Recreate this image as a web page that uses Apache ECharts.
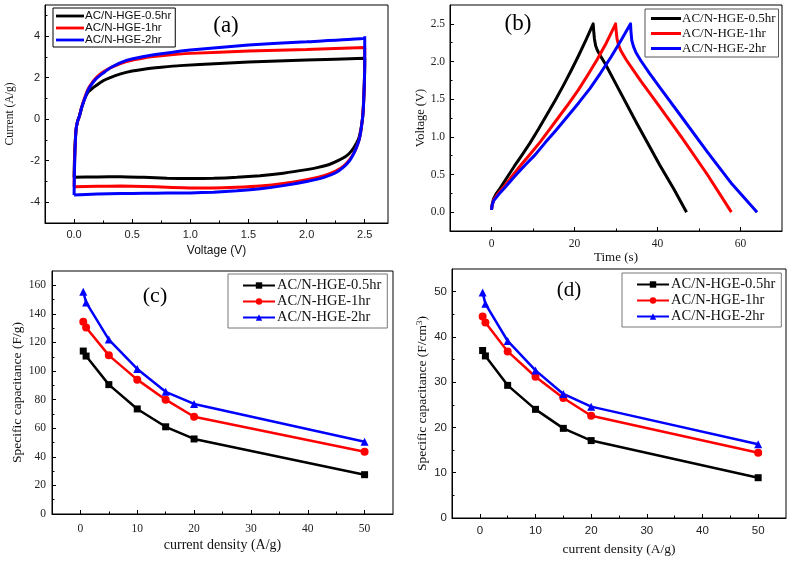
<!DOCTYPE html>
<html><head><meta charset="utf-8">
<script src="https://cdn.jsdelivr.net/npm/echarts@6/dist/echarts.min.js"></script>
<style>html,body{margin:0;padding:0;background:#fff}#c{width:790px;height:561px}</style>
</head><body><div id="c"></div>
<script>
// ---- Data ----
var seriesNames = ['AC/N-HGE-0.5hr', 'AC/N-HGE-1hr', 'AC/N-HGE-2hr'];
// (a) CV loops [voltage V, current A/g]
var cvBlack = [[0,-2.8],[0.003,-2.0],[0.008,-1.3],[0.017,-0.5],[0.03,-0.1],[0.046,0.15],[0.065,0.55],[0.089,0.95],[0.12,1.3],[0.16,1.5],[0.19,1.62],[0.25,1.85],[0.3,1.98],[0.4,2.18],[0.5,2.32],[0.6,2.41],[0.75,2.5],[0.91,2.58],[1.25,2.68],[1.5,2.75],[2.0,2.85],[2.5,2.93],
  [2.497,1.8],[2.49,0.8],[2.48,0],[2.455,-0.8],[2.43,-1.15],[2.39,-1.5],[2.34,-1.78],[2.27,-2.0],[2.2,-2.17],[2.1,-2.32],[2.0,-2.43],[1.8,-2.6],[1.6,-2.72],[1.4,-2.8],[1.2,-2.85],[1.0,-2.86],[0.8,-2.84],[0.6,-2.8],[0.4,-2.77],[0.2,-2.78],[0,-2.8]];
var cvRed = [[0,-3.25],[0.003,-2.3],[0.008,-1.4],[0.017,-0.5],[0.03,-0.1],[0.046,0.15],[0.065,0.58],[0.089,1.0],[0.12,1.45],[0.16,1.8],[0.2,2.05],[0.25,2.27],[0.32,2.5],[0.45,2.78],[0.6,2.95],[0.75,3.05],[1.0,3.17],[1.5,3.28],[2.0,3.36],[2.5,3.45],
  [2.498,2.0],[2.49,0.8],[2.48,0],[2.46,-0.8],[2.44,-1.2],[2.41,-1.6],[2.37,-1.95],[2.32,-2.25],[2.25,-2.5],[2.15,-2.72],[2.0,-2.92],[1.8,-3.1],[1.6,-3.22],[1.4,-3.28],[1.2,-3.31],[1.0,-3.31],[0.8,-3.28],[0.6,-3.24],[0.4,-3.22],[0.2,-3.23],[0,-3.25]];
var cvBlue = [[0,-3.65],[0.003,-2.6],[0.008,-1.5],[0.017,-0.5],[0.03,-0.1],[0.046,0.15],[0.065,0.55],[0.089,0.95],[0.12,1.4],[0.16,1.75],[0.2,2.0],[0.25,2.22],[0.32,2.5],[0.45,2.83],[0.6,3.02],[0.75,3.15],[1.0,3.33],[1.5,3.57],[2.0,3.73],[2.5,3.9],[2.5,4.0],
  [2.5,2.5],[2.495,1.5],[2.488,0.5],[2.48,0],[2.46,-0.8],[2.44,-1.2],[2.41,-1.6],[2.37,-2.0],[2.32,-2.3],[2.25,-2.58],[2.15,-2.8],[2.0,-3.0],[1.8,-3.2],[1.6,-3.35],[1.4,-3.45],[1.2,-3.52],[1.0,-3.55],[0.8,-3.56],[0.6,-3.57],[0.4,-3.58],[0.2,-3.6],[0,-3.65]];
// (b) GCD curves [time s, voltage V]
var gcdBlack = [[0,0.03],[0.15,0.1],[0.5,0.18],[1.2,0.25],[2.1,0.32],[3.5,0.44],[5.5,0.61],[7.5,0.77],[9.3,0.92],[11.3,1.1],[13.3,1.29],[15.3,1.48],[17.3,1.68],[19.2,1.88],[21,2.08],[22.8,2.29],[24.5,2.5],
  [24.6,2.42],[24.8,2.3],[25.1,2.21],[25.5,2.15],[26.2,2.08],[27.5,1.96],[30,1.7],[35,1.18],[40.5,0.63],[44,0.3],[47,0]];
var gcdRed = [[0,0.03],[0.15,0.09],[0.5,0.16],[1.5,0.24],[2.9,0.33],[5,0.48],[7,0.62],[9.3,0.77],[11.7,0.93],[14,1.1],[16.3,1.27],[18.6,1.44],[20.9,1.62],[23.2,1.82],[25.5,2.03],[27.7,2.25],[29.9,2.5],
  [30.05,2.4],[30.25,2.3],[30.6,2.22],[31.2,2.14],[32.5,2.02],[34,1.9],[36,1.74],[40.5,1.4],[46,0.98],[52,0.5],[57.8,0]];
var gcdBlue = [[0,0.03],[0.15,0.09],[0.5,0.15],[1.8,0.24],[3.3,0.33],[5.5,0.47],[8,0.62],[10.5,0.76],[12.9,0.92],[15.6,1.09],[18.3,1.27],[21,1.45],[23.7,1.64],[26.2,1.84],[28.8,2.06],[31.2,2.28],[33.5,2.5],
  [33.6,2.4],[33.8,2.28],[34.2,2.2],[34.8,2.12],[36,2.01],[38,1.85],[40.5,1.66],[46,1.25],[52,0.8],[58,0.37],[64,0]];
// (c)/(d) rate capability
var currentDensity = [0.5, 1, 5, 10, 15, 20, 50];
var capGravBlack = [114, 110.5, 90.5, 73.5, 61, 52.5, 27.5];
var capGravRed = [134.5, 130.5, 111, 94, 80, 68, 43.5];
var capGravBlue = [155.5, 148, 122, 101.5, 85.5, 77, 50.5];
var capVolBlack = [37, 35.8, 29.3, 24, 19.8, 17.1, 8.9];
var capVolRed = [44.5, 43.2, 36.8, 31.2, 26.5, 22.6, 14.4];
var capVolBlue = [49.8, 47.3, 39.1, 32.6, 27.4, 24.6, 16.3];
// tick labels
var ticksAX = [0, 0.5, 1.0, 1.5, 2.0, 2.5], minorAX = [0.25, 0.75, 1.25, 1.75, 2.25];
var ticksAY = [-4, -2, 0, 2, 4], minorAY = [-5, -3, -1, 1, 3, 5];
var ticksBX = [0, 20, 40, 60], minorBX = [10, 30, 50];
var ticksBY = [0, 0.5, 1.0, 1.5, 2.0, 2.5], minorBY = [0.25, 0.75, 1.25, 1.75, 2.25];
var ticksCX = [0, 10, 20, 30, 40, 50], minorCX = [5, 15, 25, 35, 45];
var ticksCY = [0, 20, 40, 60, 80, 100, 120, 140, 160], minorCY = [10, 30, 50, 70, 90, 110, 130, 150];
var ticksDY = [0, 10, 20, 30, 40, 50], minorDY = [5, 15, 25, 35, 45];

var colors = ['#000000', '#ff0000', '#0000ff'];
var SERIF = 'Liberation Serif', SANS = 'Liberation Sans';

function zip(xs, ys) { return xs.map(function (x, i) { return [x, ys[i]]; }); }

var xAxes = [], yAxes = [];
function addAxes(list, dim, g, c) {
  var main = {
    type: 'value', gridIndex: g, min: c.min, max: c.max,
    position: dim === 'x' ? 'bottom' : 'left',
    axisLine: { show: true, onZero: false, lineStyle: { color: '#000', width: 1 } },
    axisTick: { show: true, inside: true, length: 4, customValues: c.ticks, lineStyle: { color: '#000' } },
    axisLabel: { customValues: c.ticks, margin: c.margin, fontFamily: c.font, fontSize: c.size, color: '#222', formatter: c.fmt },
    splitLine: { show: false },
    name: c.name, nameLocation: 'middle', nameGap: c.nameGap,
    nameTextStyle: Object.assign({ fontFamily: c.nameFont, fontSize: c.nameSize, color: '#111' }, c.nameStyle || {})
  };
  var minor = {
    type: 'value', gridIndex: g, min: c.min, max: c.max,
    position: dim === 'x' ? 'bottom' : 'left',
    axisLine: { show: false, onZero: false },
    axisTick: { show: true, inside: true, length: 2.5, customValues: c.minor, lineStyle: { color: '#000' } },
    axisLabel: { show: false }, splitLine: { show: false }
  };
  list.push(main, minor);
  return list.length - 2;
}
var f1 = function (v) { return v.toFixed(1); };
var f0 = function (v) { return String(Math.round(v)); };

// panel a
var ax = addAxes(xAxes, 'x', 0, { min: -0.25, max: 2.7, ticks: ticksAX, minor: minorAX, margin: 6, font: SANS, size: 11, fmt: f1, name: 'Voltage (V)', nameGap: 22, nameFont: SANS, nameSize: 12 });
var ay = addAxes(yAxes, 'y', 0, { min: -5, max: 5.5, ticks: ticksAY, minor: minorAY, margin: 5, font: SANS, size: 11, fmt: f0, name: 'Current (A/g)', nameGap: 29, nameFont: SERIF, nameSize: 11.5 });
// panel b
var bx = addAxes(xAxes, 'x', 1, { min: -10, max: 70, ticks: ticksBX, minor: minorBX, margin: 7, font: SERIF, size: 11.5, fmt: f0, name: 'Time (s)', nameGap: 13, nameFont: SERIF, nameSize: 13 });
var by = addAxes(yAxes, 'y', 1, { min: -0.25, max: 2.75, ticks: ticksBY, minor: minorBY, margin: 5, font: SERIF, size: 11.5, fmt: f1, name: 'Voltage (V)', nameGap: 22, nameFont: SERIF, nameSize: 12.5 });
// panel c
var cx = addAxes(xAxes, 'x', 2, { min: -5, max: 55, ticks: ticksCX, minor: minorCX, margin: 9, font: SERIF, size: 11.5, fmt: f0, name: 'current density (A/g)', nameGap: 24, nameFont: SERIF, nameSize: 14 });
var cy = addAxes(yAxes, 'y', 2, { min: 0, max: 170, ticks: ticksCY, minor: minorCY, margin: 6, font: SERIF, size: 11.5, fmt: f0, name: 'Specific capacitance (F/g)', nameGap: 27, nameFont: SERIF, nameSize: 13.5 });
// panel d
var dx = addAxes(xAxes, 'x', 3, { min: -5, max: 55, ticks: ticksCX, minor: minorCX, margin: 7, font: SANS, size: 11.5, fmt: f0, name: 'current density (A/g)', nameGap: 24, nameFont: SERIF, nameSize: 13.5 });
var dy = addAxes(yAxes, 'y', 3, { min: 0, max: 55, ticks: ticksDY, minor: minorDY, margin: 5, font: SANS, size: 11.5, fmt: f0,
  name: '{a|Specific capacitance (F/cm}{s|3}{a|)}', nameGap: 22, nameFont: SERIF, nameSize: 13.5,
  nameStyle: { rich: { a: { fontFamily: SERIF, fontSize: 13.5, color: '#111' }, s: { fontFamily: SERIF, fontSize: 9, color: '#111', verticalAlign: 'top', padding: [0, 0, 6, 0] } } } });

function nm(i, p) { return seriesNames[i] + ' '.repeat(p); }

var series = [];
[cvBlack, cvRed, cvBlue].forEach(function (d, i) {
  series.push({ type: 'line', name: nm(i, 0), xAxisIndex: ax, yAxisIndex: ay, data: d, symbol: 'none', smooth: 0.15, lineStyle: { color: colors[i], width: 3 }, itemStyle: { color: colors[i] } });
});
[gcdBlack, gcdRed, gcdBlue].forEach(function (d, i) {
  series.push({ type: 'line', name: nm(i, 1), xAxisIndex: bx, yAxisIndex: by, data: d, symbol: 'none', smooth: false, lineStyle: { color: colors[i], width: 3, join: 'round' }, itemStyle: { color: colors[i] } });
});
var symbols = ['rect', 'circle', 'triangle'], symSizes = [7, 8, 8];
[capGravBlack, capGravRed, capGravBlue].forEach(function (d, i) {
  series.push({ type: 'line', name: nm(i, 2), xAxisIndex: cx, yAxisIndex: cy, data: zip(currentDensity, d), symbol: symbols[i], symbolSize: symSizes[i], lineStyle: { color: colors[i], width: 2.5 }, itemStyle: { color: colors[i] } });
});
[capVolBlack, capVolRed, capVolBlue].forEach(function (d, i) {
  series.push({ type: 'line', name: nm(i, 3), xAxisIndex: dx, yAxisIndex: dy, data: zip(currentDensity, d), symbol: symbols[i], symbolSize: symSizes[i], lineStyle: { color: colors[i], width: 2.5 }, itemStyle: { color: colors[i] } });
});

var lineIcon = 'path://M0,0L40,0L40,4L0,4Z';
function legend(p, cfg, plainLine) {
  return Object.assign({
    orient: 'vertical',
    data: [0, 1, 2].map(function (i) { return plainLine ? { name: nm(i, p), icon: lineIcon } : { name: nm(i, p) }; }),
    selectedMode: false,
    formatter: function (n) { return n.trim(); },
    backgroundColor: '#fff', borderWidth: 1
  }, cfg);
}

var option = {
  animation: false,
  backgroundColor: '#fff',
  grid: [
    { left: 45, top: 5, width: 343, height: 218, show: true, borderColor: '#000', borderWidth: 1, backgroundColor: 'transparent' },
    { left: 450, top: 5, width: 332, height: 226, show: true, borderColor: '#000', borderWidth: 1, backgroundColor: 'transparent' },
    { left: 52, top: 271, width: 341, height: 243, show: true, borderColor: '#000', borderWidth: 1, backgroundColor: 'transparent' },
    { left: 452, top: 269, width: 334, height: 249, show: true, borderColor: '#000', borderWidth: 1, backgroundColor: 'transparent' }
  ],
  xAxis: xAxes, yAxis: yAxes, series: series,
  legend: [
    legend(0, { left: 53, top: 8, itemWidth: 28, itemHeight: 10, itemGap: 0, padding: [2, 4, 1, 3], borderColor: '#000', textStyle: { fontFamily: SANS, fontSize: 11.5, lineHeight: 11, color: '#111', padding: [0, 0, 0, -4] } }, true),
    legend(1, { left: 645, top: 9, itemWidth: 30, itemHeight: 12, itemGap: 2, padding: [3, 3, 2, 6], borderColor: '#555', textStyle: { fontFamily: SERIF, fontSize: 13, lineHeight: 13, color: '#111', padding: [0, 0, 0, -4] } }, true),
    legend(2, { left: 228, top: 274, itemWidth: 32, itemHeight: 8, itemGap: 1, padding: [4, 6, 3, 14], borderColor: '#777', textStyle: { fontFamily: SERIF, fontSize: 14.5, lineHeight: 15, color: '#111', padding: [0, 0, 0, -3] } }),
    legend(3, { left: 622, top: 273, itemWidth: 32, itemHeight: 8, itemGap: 1, padding: [4, 6, 3, 14], borderColor: '#777', textStyle: { fontFamily: SERIF, fontSize: 14.5, lineHeight: 15, color: '#111', padding: [0, 0, 0, -3] } })
  ],
  graphic: [
    { type: 'text', x: 226, y: 26, style: { text: '(a)', font: '23px "Liberation Serif"', fill: '#000', textAlign: 'center', textVerticalAlign: 'middle' } },
    { type: 'text', x: 518, y: 24, style: { text: '(b)', font: '23px "Liberation Serif"', fill: '#000', textAlign: 'center', textVerticalAlign: 'middle' } },
    { type: 'text', x: 155, y: 296, style: { text: '(c)', font: '22px "Liberation Serif"', fill: '#000', textAlign: 'center', textVerticalAlign: 'middle' } },
    { type: 'text', x: 569, y: 290, style: { text: '(d)', font: '21px "Liberation Serif"', fill: '#000', textAlign: 'center', textVerticalAlign: 'middle' } }
  ]
};
var chart = echarts.init(document.getElementById('c'), null, { renderer: 'canvas' });
chart.setOption(option);
</script></body></html>
